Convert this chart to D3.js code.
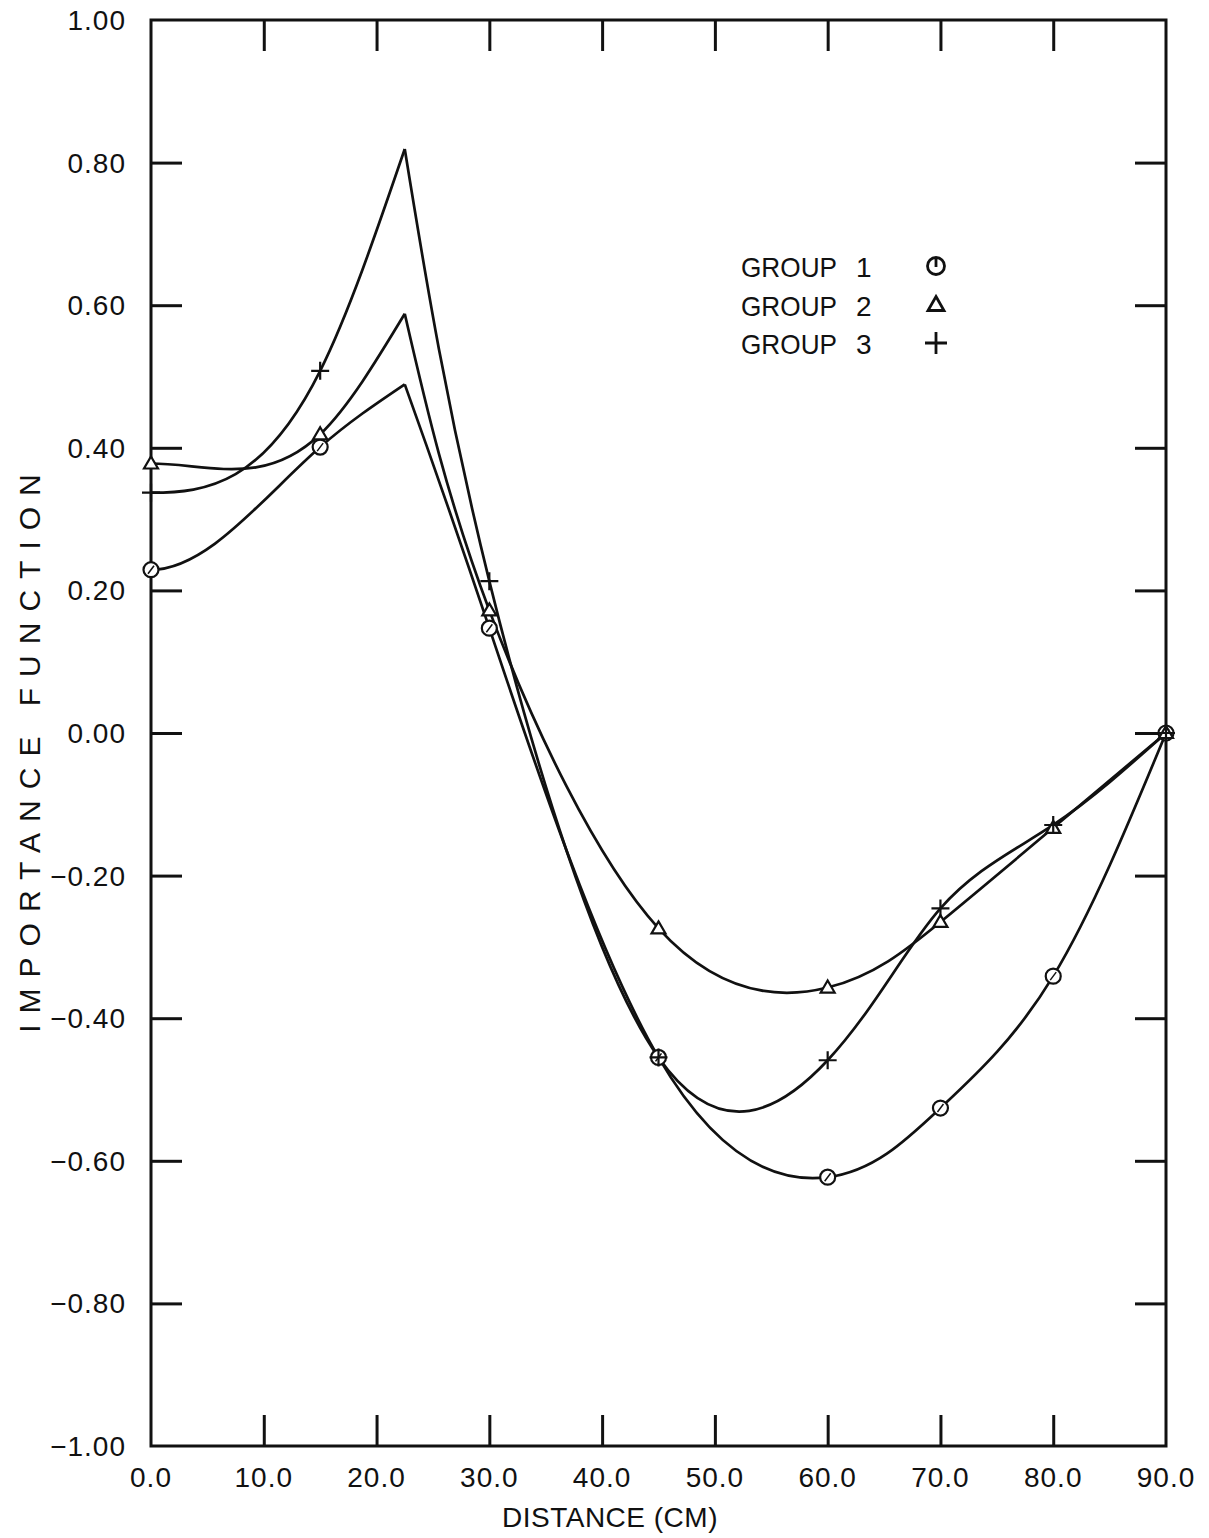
<!DOCTYPE html>
<html>
<head>
<meta charset="utf-8">
<script src="https://cdn.jsdelivr.net/npm/d3@7"></script>
<style>
  html, body { margin: 0; padding: 0; background: #fff; }
  svg { display: block; }
  text { font-family: "Liberation Sans", Arial, Helvetica, sans-serif; fill: #111; }
</style>
</head>
<body>
<svg id="chart" width="1209" height="1538"></svg>
<script>
// Distance along the core (cm); the 22.5 cm entry is the interface cusp (no marker)
const distance = [0, 15, 22.5, 30, 45, 60, 70, 80, 90];
const cuspIndex = 2;

// Importance function values per energy group
const group1 = [0.229, 0.401, 0.489, 0.147, -0.455, -0.623, -0.526, -0.341, 0.0];
const group2 = [0.378, 0.419, 0.588, 0.172, -0.274, -0.357, -0.265, -0.133, 0.0];
const group3 = [0.337, 0.508, 0.819, 0.213, -0.455, -0.459, -0.246, -0.129, 0.0];

const groupNames = ["GROUP 1", "GROUP 2", "GROUP 3"];
const groupSymbols = ["circle", "triangle", "plus"];

const xTicks = [0, 10, 20, 30, 40, 50, 60, 70, 80, 90];
const yTicks = [-1.0, -0.8, -0.6, -0.4, -0.2, 0.0, 0.2, 0.4, 0.6, 0.8, 1.0];

const svg = d3.select("#chart");
const plotLeft = 151, plotRight = 1166, plotTop = 20, plotBottom = 1446;

const x = d3.scaleLinear().domain([0, 90]).range([plotLeft, plotRight]);
const y = d3.scaleLinear().domain([-1, 1]).range([plotBottom, plotTop]);

// Cubic spline with zero slope at the first knot (symmetry plane) and a
// natural condition at the last knot, emitted as Bezier segments.
function curveClampedStart(context) {
  let xs, ys;
  return {
    areaStart() {}, areaEnd() {},
    lineStart() { xs = []; ys = []; },
    point(px, py) { xs.push(+px); ys.push(+py); },
    lineEnd() {
      const n = xs.length - 1;
      if (n < 1) return;
      context.moveTo(xs[0], ys[0]);
      const h = d3.range(n).map(i => xs[i + 1] - xs[i]);
      // Tridiagonal system for second derivatives M (M[n] = 0)
      const a = new Array(n).fill(0), b = new Array(n).fill(0),
            c = new Array(n).fill(0), d = new Array(n).fill(0);
      b[0] = 2 * h[0]; c[0] = h[0];
      d[0] = 6 * ((ys[1] - ys[0]) / h[0] - 0);
      for (let i = 1; i < n; i++) {
        a[i] = h[i - 1]; b[i] = 2 * (h[i - 1] + h[i]); c[i] = h[i];
        d[i] = 6 * ((ys[i + 1] - ys[i]) / h[i] - (ys[i] - ys[i - 1]) / h[i - 1]);
      }
      for (let i = 1; i < n; i++) {
        const w = a[i] / b[i - 1];
        b[i] -= w * c[i - 1];
        d[i] -= w * d[i - 1];
      }
      const M = new Array(n + 1).fill(0);
      M[n - 1] = d[n - 1] / b[n - 1];
      for (let i = n - 2; i >= 0; i--) M[i] = (d[i] - c[i] * M[i + 1]) / b[i];
      const m = [];
      for (let i = 0; i < n; i++) m[i] = (ys[i + 1] - ys[i]) / h[i] - h[i] * (2 * M[i] + M[i + 1]) / 6;
      m[n] = (ys[n] - ys[n - 1]) / h[n - 1] + h[n - 1] * (M[n - 1] + 2 * M[n]) / 6;
      for (let i = 0; i < n; i++) {
        const t = h[i] / 3;
        context.bezierCurveTo(xs[i] + t, ys[i] + t * m[i],
                              xs[i + 1] - t, ys[i + 1] - t * m[i + 1],
                              xs[i + 1], ys[i + 1]);
      }
    }
  };
}

const lineLeft = d3.line().x(d => x(d[0])).y(d => y(d[1])).curve(curveClampedStart);
const lineRight = d3.line().x(d => x(d[0])).y(d => y(d[1])).curve(d3.curveNatural);

const groups = [group1, group2, group3];

// Frame
svg.append("rect")
  .attr("x", plotLeft).attr("y", plotTop)
  .attr("width", plotRight - plotLeft).attr("height", plotBottom - plotTop)
  .attr("fill", "none").attr("stroke", "#111").attr("stroke-width", 3);

// Axes with inward ticks on all four sides
const tickLen = 31;
const innerX = xTicks.slice(1, -1);
const innerY = yTicks.slice(1, -1);

const gBottom = svg.append("g").attr("transform", `translate(0,${plotBottom})`)
  .call(d3.axisBottom(x).tickValues(innerX).tickSize(-tickLen).tickFormat(""));
const gTop = svg.append("g").attr("transform", `translate(0,${plotTop})`)
  .call(d3.axisTop(x).tickValues(innerX).tickSize(-tickLen).tickFormat(""));
const gLeft = svg.append("g").attr("transform", `translate(${plotLeft},0)`)
  .call(d3.axisLeft(y).tickValues(innerY).tickSize(-tickLen).tickFormat(""));
const gRight = svg.append("g").attr("transform", `translate(${plotRight},0)`)
  .call(d3.axisRight(y).tickValues(innerY).tickSize(-tickLen).tickFormat(""));
[gBottom, gTop, gLeft, gRight].forEach(g => {
  g.select(".domain").remove();
  g.selectAll(".tick line").attr("stroke", "#111").attr("stroke-width", 3);
});

// Tick labels
const fmtX = d => d.toFixed(1);
const fmtY = d => (d < 0 ? "\u2212" : "") + Math.abs(d).toFixed(2);

svg.append("g").selectAll("text").data(xTicks).join("text")
  .attr("x", d => x(d)).attr("y", 1487)
  .attr("text-anchor", "middle")
  .attr("font-size", 28).attr("letter-spacing", 1)
  .text(fmtX);

svg.append("g").selectAll("text").data(yTicks).join("text")
  .attr("x", 126).attr("y", d => y(d) + 10)
  .attr("text-anchor", "end")
  .attr("font-size", 28).attr("letter-spacing", 1)
  .text(fmtY);

// Axis titles
svg.append("text")
  .attr("x", 610).attr("y", 1527)
  .attr("text-anchor", "middle").attr("font-size", 28).attr("letter-spacing", 0.5)
  .text("DISTANCE (CM)");

svg.append("text")
  .attr("transform", "translate(40,748) rotate(-90)")
  .attr("text-anchor", "middle").attr("font-size", 30).attr("letter-spacing", 11)
  .text("IMPORTANCE FUNCTION");

// Curves: smooth on each side of the cusp
const curves = svg.append("g").attr("fill", "none").attr("stroke", "#111").attr("stroke-width", 2.7);
groups.forEach(vals => {
  const pts = distance.map((dv, i) => [dv, vals[i]]);
  curves.append("path").attr("d", lineLeft(pts.slice(0, cuspIndex + 1)));
  curves.append("path").attr("d", lineRight(pts.slice(cuspIndex)));
});

// Marker symbols
function drawSymbol(g, kind, big) {
  g.attr("fill", "none").attr("stroke", "#111").attr("stroke-width", big ? 2.8 : 2.2);
  if (kind === "circle") {
    g.append("circle").attr("r", big ? 8.5 : 7.5).attr("fill", "#fff");
    if (big) g.append("line").attr("x1", 0).attr("y1", -8).attr("x2", 0).attr("y2", 1);
    else g.append("line").attr("x1", -3).attr("y1", 4).attr("x2", 3).attr("y2", -4).attr("stroke-width", 1.5);
  } else if (kind === "triangle") {
    g.append("path").attr("d", big ? "M0,-8L8,6L-8,6Z" : "M0,-7L7,5L-7,5Z").attr("fill", "#fff");
  } else {
    g.append("path").attr("d", big ? "M-11,0H11M0,-11V11" : "M-9,0H9M0,-9V9");
  }
}

const marks = svg.append("g");
groups.forEach((vals, gi) => {
  distance.forEach((dv, i) => {
    if (i === cuspIndex) return;
    const g = marks.append("g").attr("transform", `translate(${x(dv)},${y(vals[i])})`);
    drawSymbol(g, groupSymbols[gi], false);
  });
});

// Legend
const legend = svg.append("g");
groupNames.forEach((name, i) => {
  const cy = 266 + i * 38.5;
  legend.append("text")
    .attr("x", 741).attr("y", cy + 11)
    .attr("font-size", 28).attr("textLength", 96).attr("lengthAdjust", "spacingAndGlyphs")
    .text(name.split(" ")[0]);
  legend.append("text")
    .attr("x", 856).attr("y", cy + 11)
    .attr("font-size", 28)
    .text(name.split(" ")[1]);
  const g = legend.append("g").attr("transform", `translate(936,${cy})`);
  drawSymbol(g, groupSymbols[i], true);
});
</script>
</body>
</html>
